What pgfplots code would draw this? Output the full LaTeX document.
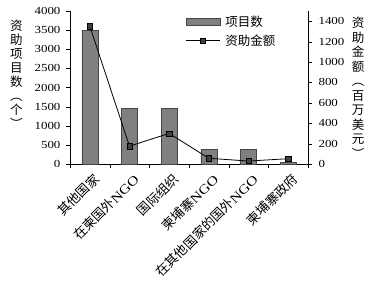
\documentclass[border=0pt]{standalone}
\usepackage{pgfplots}
\pgfplotsset{compat=1.18}
\usepackage{fontspec}
\setmainfont{Liberation Serif}[FakeStretch=1.2]
\newfontfamily\cjk{Noto Sans CJK SC}
\definecolor{barfill}{RGB}{128,128,128}
\definecolor{bardraw}{RGB}{70,70,70}
\definecolor{markfill}{RGB}{64,64,64}

\begin{document}
\begin{tikzpicture}
\path[use as bounding box] (-70pt,-118pt) rectangle (300pt,164pt);
\begin{axis}[
    scale only axis,
    width=238pt, height=153pt,
    xmin=-0.5, xmax=5.5,
    ymin=0, ymax=4000,
    axis x line*=bottom,
    axis y line*=left,
    ytick={0,500,...,4000},
    xtick={0,...,5},
    xticklabels={{\cjk 其他国家},{\cjk 在柬国外}NGO,{\cjk 国际组织},{\cjk 柬埔寨}NGO,{\cjk 在其他国家的国外}NGO,{\cjk 柬埔寨政府}},
    x tick label style={rotate=45, anchor=east, font=\fontsize{13}{14}\selectfont,
      inner sep=0pt, xshift=-1pt, yshift=-11pt},
    major x tick style={draw=none},
    minor xtick={-0.5,0.5,...,5.5},
    minor tick length=4pt,
    major tick length=4pt,
    tick align=outside,
    tick style={black},
    y tick label style={font=\fontsize{10.8}{12}\selectfont, xshift=-2pt},
    /pgf/number format/assume math mode=true,
    /pgf/number format/1000 sep={},
    axis line style={black},
    clip=false,
  ]
  \addplot[ybar, bar width=16pt, fill=barfill, draw=bardraw] coordinates {
    (0,3500) (1,1450) (2,1450) (3,390) (4,380) (5,50)
  };
\end{axis}
\begin{axis}[
    scale only axis,
    width=238pt, height=153pt,
    xmin=-0.5, xmax=5.5,
    ymin=0, ymax=1500,
    axis x line=none,
    axis y line*=right,
    ytick={0,200,...,1400},
    tick align=outside,
    major tick length=4pt,
    tick style={black},
    y tick label style={font=\fontsize{10.8}{12}\selectfont, xshift=3pt},
    /pgf/number format/assume math mode=true,
    /pgf/number format/1000 sep={},
    axis line style={black},
    clip=false,
    legend style={draw=none, fill=none, at={(0.485,0.985)}, anchor=north west,
      font=\fontsize{12.5}{13}\cjk, row sep=3pt, inner sep=0pt,
      /tikz/every odd column/.style={column sep=3pt}},
    legend cell align=left,
  ]
  \addlegendimage{legend image code/.code={\draw[fill=barfill, draw=bardraw] (0pt,-3.3pt) rectangle (34pt,3.3pt);}}
  \addlegendentry{项目数}
  \addplot[black, line width=0.8pt, mark=square*, mark size=2.6pt, mark options={fill=markfill, draw=black, line width=0.5pt},
    legend image code/.code={\draw[mark repeat=2, mark phase=2] plot coordinates {(0pt,0pt) (17pt,0pt) (34pt,0pt)};}]
    coordinates {
    (0,1350) (1,175) (2,300) (3,56) (4,29) (5,52)
  };
  \addlegendentry{资助金额}
\end{axis}
\node[align=center, font=\fontsize{12.5}{14}\cjk, anchor=north, inner sep=0pt] at (-53.5pt,144pt)
  {资\\助\\项\\目\\数\\︵\\个\\︶};
\node[align=center, font=\fontsize{12.5}{14.5}\cjk, anchor=north, inner sep=0pt] at (288pt,147pt)
  {资\\助\\金\\额\\︵\\百\\万\\美\\元\\︶};
\end{tikzpicture}
\end{document}
